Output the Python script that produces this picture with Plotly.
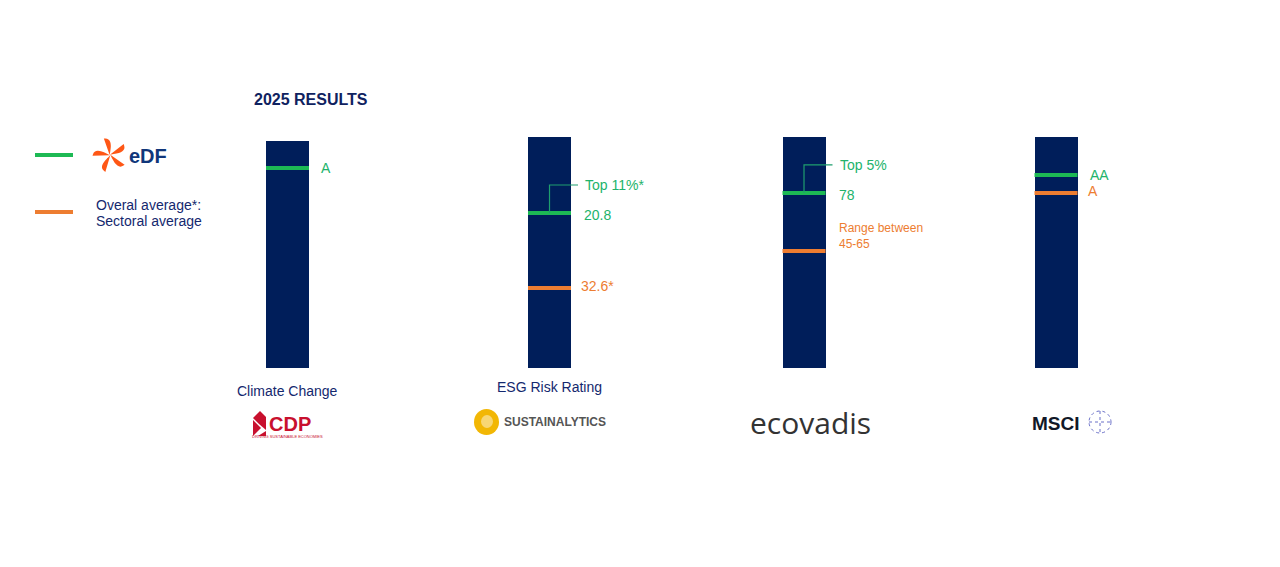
import plotly.graph_objects as go
import math

# ---- data ----
providers = ["CDP", "Sustainalytics", "EcoVadis", "MSCI"]
categories = ["Climate Change", "ESG Risk Rating", "", ""]
bar_top = [98.3, 100, 100, 100]              # bar height on a 0-100 visual scale
edf_level = [86.6, 67.1, 75.8, 83.5]         # EDF marker position on the bar scale
avg_level = [None, 34.6, 50.6, 75.8]         # sector average marker position
edf_labels = ["A", "20.8", "78", "AA"]
avg_labels = ["", "32.6*", "Range between<br>45-65", "A"]
top_labels = ["", "Top 11%*", "Top 5%", ""]

# ---- layout constants ----
W, H = 1280, 567
bar_x = [287.5, 549.5, 804, 1056]
bar_w = 43
NAVY = "#001E5A"
TXT_NAVY = "#14286E"
GREEN = "#1DB954"
GREEN_TXT = "#22B36B"
ORANGE = "#ED7D31"
FONT = "Liberation Sans, Arial, sans-serif"

px_per = 2.31
y_bottom = 368
yr = [-(H - y_bottom) / px_per, y_bottom / px_per]
def lvl_px(v):
    return y_bottom - v * px_per

fig = go.Figure()
fig.add_trace(go.Bar(x=bar_x, y=bar_top, base=0, width=bar_w,
                     marker=dict(color=NAVY, line=dict(width=0)),
                     hoverinfo="skip", showlegend=False))

for i, x in enumerate(bar_x):
    fig.add_trace(go.Scatter(x=[x - bar_w / 2, x + bar_w / 2], y=[edf_level[i]] * 2,
                             mode="lines", line=dict(color=GREEN, width=4),
                             hoverinfo="skip", showlegend=False))
    if avg_level[i] is not None:
        fig.add_trace(go.Scatter(x=[x - bar_w / 2, x + bar_w / 2], y=[avg_level[i]] * 2,
                                 mode="lines", line=dict(color=ORANGE, width=4),
                                 hoverinfo="skip", showlegend=False))

annotations = []
shapes = []

def txt(x, y, text, color=TXT_NAVY, size=13, xanchor="left", bold=False, yanchor="middle",
        family=FONT):
    if bold:
        text = "<b>" + text + "</b>"
    annotations.append(dict(x=x, y=y, xref="x", yref="y2", text=text, showarrow=False,
                            xanchor=xanchor, yanchor=yanchor, align="left",
                            font=dict(family=family, size=size, color=color)))

# value labels
for i, x in enumerate(bar_x):
    right = x + bar_w / 2
    ey = lvl_px(edf_level[i])
    if top_labels[i]:
        txt(right + 11, ey + 2, edf_labels[i], GREEN_TXT, size=14)
        cx = x
        ty = ey - 28
        shapes.append(dict(type="path", xref="x", yref="y2",
                           path=f"M {cx},{ey} L {cx},{ty} L {right + 7},{ty}",
                           line=dict(color="#1E9E6E", width=1.2)))
        txt(right + 12, ty, top_labels[i], GREEN_TXT, size=14)
    else:
        txt(right + 10, ey, edf_labels[i], GREEN_TXT, size=14)
    if avg_level[i] is not None:
        ay = lvl_px(avg_level[i])
        if "<br>" in avg_labels[i]:
            txt(right + 11, ay - 15, avg_labels[i], ORANGE, size=12)
        else:
            txt(right + 8, ay - 2, avg_labels[i], ORANGE, size=14)

# title
txt(252, 99, "2025 RESULTS", "#0F2260", size=16, bold=True)

# category labels
for i, x in enumerate(bar_x):
    if categories[i]:
        txt(x, 391 if i == 0 else 387, categories[i], TXT_NAVY, size=14, xanchor="center")

# legend
shapes.append(dict(type="line", xref="x", yref="y2", x0=35, x1=73, y0=155, y1=155,
                   line=dict(color=GREEN, width=4)))
shapes.append(dict(type="line", xref="x", yref="y2", x0=35, x1=73, y0=212, y1=212,
                   line=dict(color=ORANGE, width=4)))
# EDF sunburst petals
cx0, cy0 = 110, 155
for k in range(5):
    a = math.radians(100 + k * 72)
    r1, r2 = 4, 15
    dx, dy = math.cos(a), -math.sin(a)
    nx, ny = -dy, dx
    p1 = (cx0 + r1 * dx, cy0 + r1 * dy)
    p2 = (cx0 + r2 * dx + 4 * nx, cy0 + r2 * dy + 4 * ny)
    p3 = (cx0 + (r2 + 1) * dx - 2 * nx, cy0 + (r2 + 1) * dy - 2 * ny)
    shapes.append(dict(type="path", xref="x", yref="y2",
                       path=f"M {p1[0]},{p1[1]} Q {p2[0]},{p2[1]} {p3[0]},{p3[1]} Z",
                       fillcolor="#FE5716", line=dict(color="#FE5716", width=2)))
txt(127, 156, "eDF", "#10367A", size=20, bold=True)
txt(94, 205, "Overal average*:", TXT_NAVY, size=14)
txt(94, 221, "Sectoral average", TXT_NAVY, size=14)

# provider logos (text approximations)
# CDP
shapes.append(dict(type="path", xref="x", yref="y2",
                   path="M 253,418 L 260,411 L 266,417 L 266,430 L 259,424 Z",
                   fillcolor="#C8102E", line=dict(width=0)))
shapes.append(dict(type="path", xref="x", yref="y2",
                   path="M 253,420 L 261,428 L 253,436 Z", fillcolor="#C8102E", line=dict(width=0)))
shapes.append(dict(type="path", xref="x", yref="y2",
                   path="M 258,436 L 266,431 L 266,436 Z", fillcolor="#C8102E", line=dict(width=0)))
txt(267, 424, "CDP", "#C8102E", size=20, bold=True)
txt(287, 436, "DRIVING SUSTAINABLE ECONOMIES", "#C8102E", size=4, xanchor="center")
# Sustainalytics
shapes.append(dict(type="circle", xref="x", yref="y2", x0=474, x1=499, y0=409, y1=435,
                   fillcolor="#F2B705", line=dict(width=0)))
shapes.append(dict(type="circle", xref="x", yref="y2", x0=481, x1=493, y0=415, y1=428,
                   fillcolor="#FFFFFF", opacity=0.45, line=dict(width=0)))
txt(502, 422, "SUSTAINALYTICS", "#555555", size=12, bold=True)
# EcoVadis
txt(810, 422, "ecovadis", "#333333", size=30, xanchor="center", family="Open Sans, sans-serif")
# MSCI
txt(1030, 423, "MSCI", "#111827", size=19, bold=True)
shapes.append(dict(type="circle", xref="x", yref="y2", x0=1089, x1=1111, y0=411, y1=433,
                   line=dict(color="#6A70C8", width=1, dash="dot"), fillcolor="rgba(0,0,0,0)"))
shapes.append(dict(type="line", xref="x", yref="y2", x0=1100, x1=1100, y0=411, y1=433,
                   line=dict(color="#6A70C8", width=1, dash="dot")))
shapes.append(dict(type="line", xref="x", yref="y2", x0=1089, x1=1111, y0=422, y1=422,
                   line=dict(color="#6A70C8", width=1, dash="dot")))

fig.update_layout(
    width=W, height=H, margin=dict(l=0, r=0, t=0, b=0),
    paper_bgcolor="white", plot_bgcolor="white",
    xaxis=dict(range=[0, W], visible=False, fixedrange=True),
    yaxis=dict(range=yr, visible=False, fixedrange=True),
    yaxis2=dict(range=[H, 0], visible=False, overlaying="y", fixedrange=True),
    annotations=annotations, shapes=shapes, showlegend=False, bargap=0,
)
fig.write_html("out.html")
